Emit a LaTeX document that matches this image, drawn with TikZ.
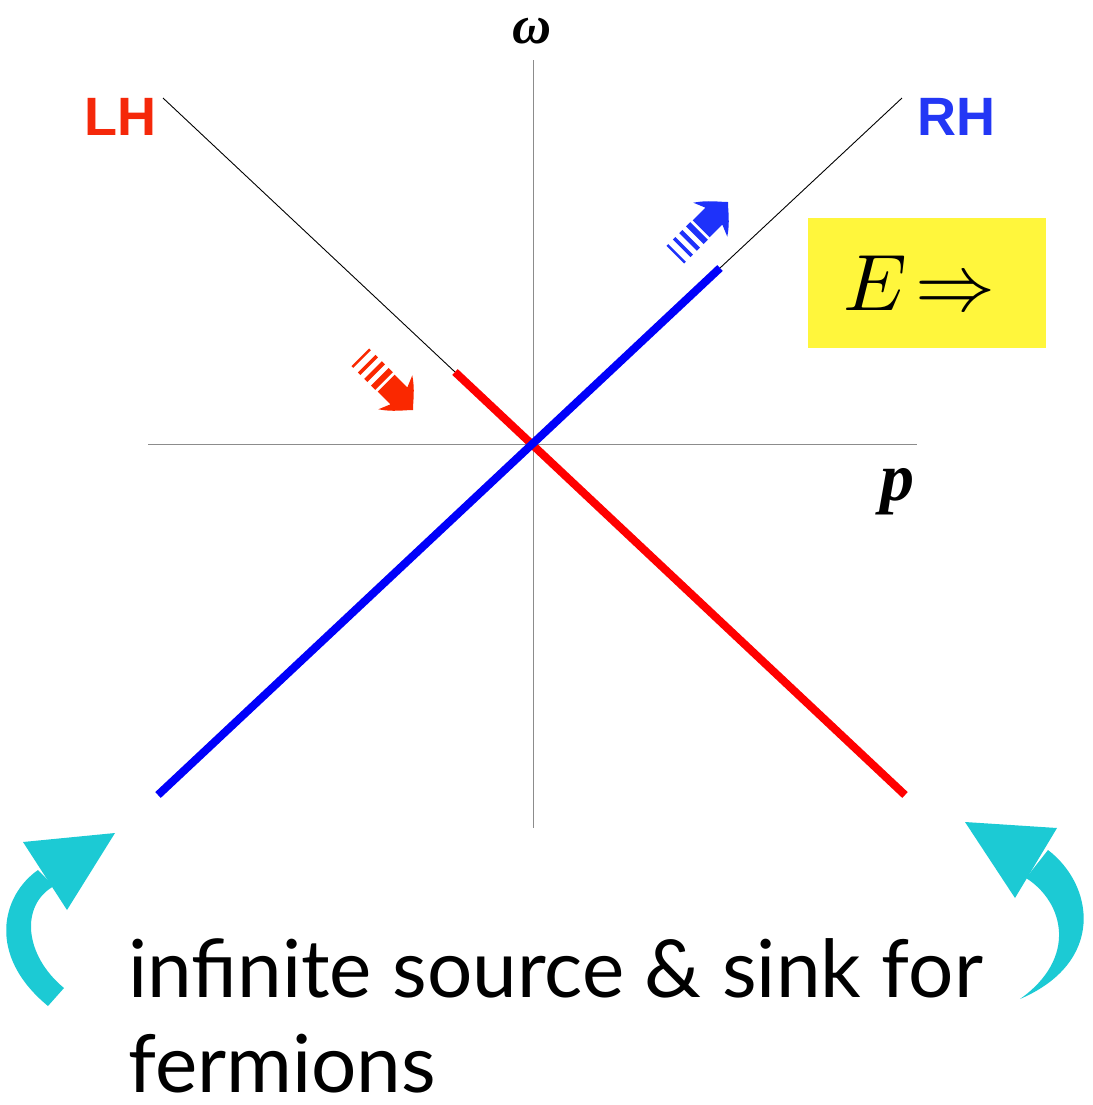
\documentclass[tikz,border=0pt]{standalone}
\usepackage{graphicx}
\usepackage{fontspec}
\setmainfont{Lato}
\newfontfamily\arialfam{Liberation Sans}
\newfontfamily\timesbi{Liberation Serif}
\definecolor{lhred}{RGB}{245,40,10}
\definecolor{linered}{RGB}{255,0,0}
\definecolor{lineblue}{RGB}{0,0,250}
\definecolor{rhblue}{RGB}{35,55,245}
\definecolor{arred}{RGB}{250,40,0}
\definecolor{arblue}{RGB}{30,50,250}
\definecolor{cyanarr}{RGB}{28,202,212}
\definecolor{boxyellow}{RGB}{255,246,60}
\newcommand\striparrow[3]{%
  \begin{scope}[shift={#1}, rotate=#2]
    \fill[#3] (0,0) .. controls (-6,-6) and (-13,-16) .. (-25,-24) -- (-20,-12)
      -- (-38,-12) -- (-38,12) -- (-20,12) -- (-25,24)
      .. controls (-13,16) and (-6,6) .. (0,0) -- cycle;
    \fill[#3] (-47,-12.5) rectangle (-41,12.5);
    \fill[#3] (-56.5,-12.5) rectangle (-52,12.5);
    \fill[#3] (-65.5,-12.5) rectangle (-62,12.5);
    \fill[#3] (-74.5,-12.5) rectangle (-72,12.5);
  \end{scope}}
\begin{document}
\begin{tikzpicture}[x=0.5pt,y=-0.5pt,
  axis/.style={draw=black!45, line width=0.5pt},
  thin line/.style={draw=black, line width=0.45pt},
  thick line/.style={line width=4pt},
  hand/.style={font=\arialfam\bfseries\fontsize{27}{30}\selectfont, inner sep=0pt, anchor=base west},
  bodytext/.style={font=\fontsize{40}{48}\selectfont, inner sep=0pt, text depth=0pt, anchor=base west}]
\useasboundingbox (0,0) rectangle (1093,1105);
% axes
\coordinate (wtop) at (533,60);
\coordinate (wbot) at (533,828);
\coordinate (pl) at (148,444);
\coordinate (pr) at (917,444);
\draw[axis] (wtop) -- (wbot);
\draw[axis] (pl) -- (pr);
% LH branch
\coordinate (lhA) at (163,98);
\coordinate (lhB) at (455,372);
\coordinate (lhC) at (905,795);
\draw[thin line] (lhA) -- (lhB);
\draw[thick line, linered] (lhB) -- (lhC);
% RH branch
\coordinate (rhA) at (902,98);
\coordinate (rhB) at (720,268);
\coordinate (rhC) at (158,795);
\draw[thin line] (rhA) -- (rhB);
\draw[thick line, lineblue] (rhB) -- (rhC);
% labels
\node[hand, text=lhred] (lh) at (84,135) {LH};
\node[hand, text=rhblue] (rh) at (917,135) {RH};
\node[inner sep=0pt, anchor=base, font=\timesbi\bfseries\itshape\fontsize{27}{30}\selectfont] (omega) at (532,43) {ω};
\node[inner sep=0pt, anchor=base west, font=\timesbi\bfseries\itshape\fontsize{34}{38}\selectfont] (p) at (880,500) {p};
% yellow box
\fill[boxyellow] (808,218) rectangle (1046,348);
\node[inner sep=0pt, anchor=base west] (E) at (843,310) {\scalebox{4}{${E}\mkern2mu{\Rightarrow}$}};
% striped arrows
\striparrow{(413,410)}{-45}{arred}
\striparrow{(728,202)}{45}{arblue}
% cyan curved arrows
\fill[cyanarr] (23,842) -- (115,833) -- (67,910) -- cycle;
\fill[cyanarr] (38,870) .. controls (2,895) and (-14,955) .. (48,1006)
  -- (64,988) .. controls (24,955) and (20,905) .. (54,886) -- cycle;
\fill[cyanarr] (965,822) -- (1057,828) -- (1015,898) -- cycle;
\fill[cyanarr] (1048,850) .. controls (1094,885) and (1106,962) .. (1020,999)
  .. controls (1078,958) and (1064,902) .. (1026,878) -- cycle;
% text
\node[bodytext] (t1) at (128,997) {infinite source \& sink for};
\node[bodytext] (t2) at (128,1092) {fermions};
\end{tikzpicture}
\end{document}
